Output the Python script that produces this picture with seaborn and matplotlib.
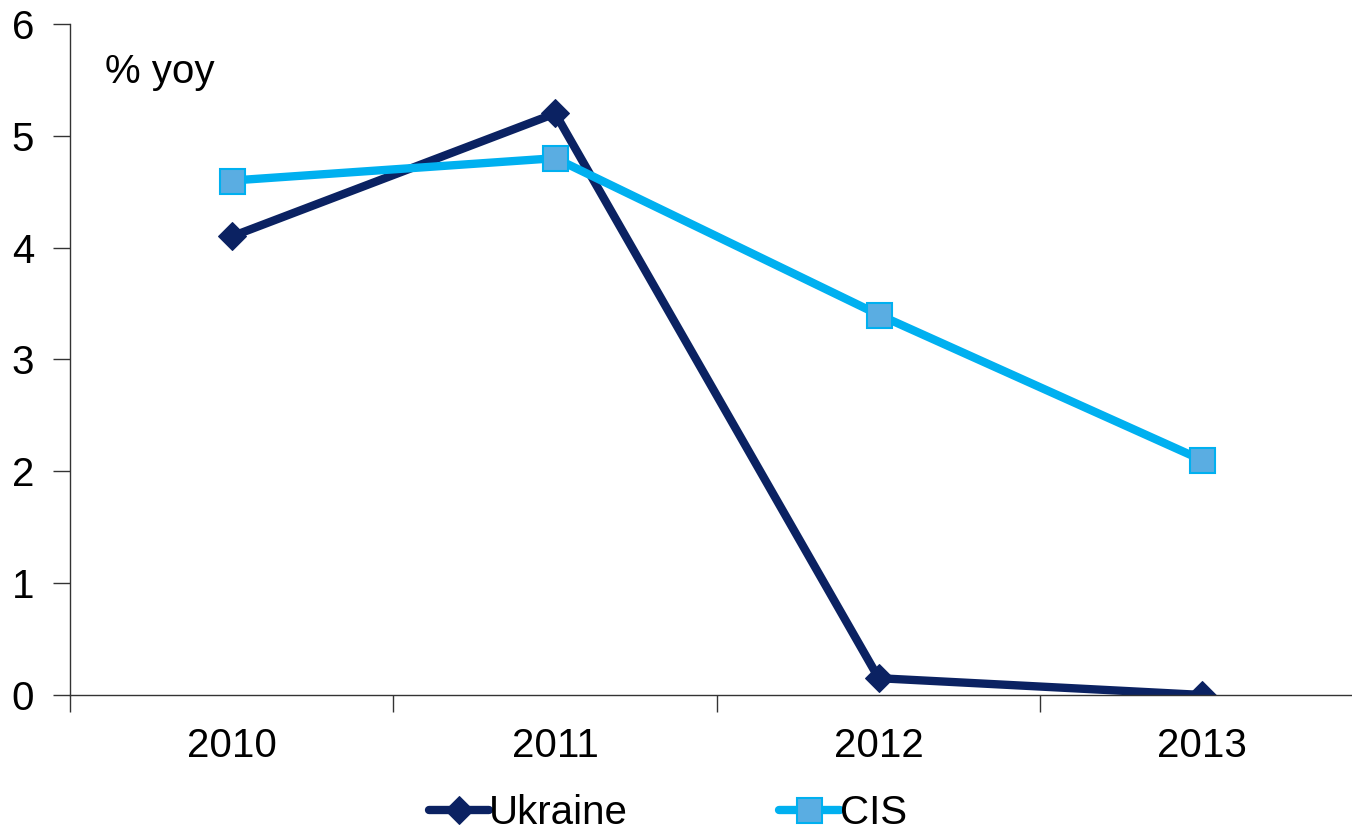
import pandas as pd
import matplotlib
matplotlib.use('Agg')
import matplotlib.pyplot as plt
import seaborn as sns

# Data
years = ['2010', '2011', '2012', '2013']
ukraine = [4.1, 5.2, 0.15, 0.0]
cis = [4.6, 4.8, 3.4, 2.1]

sns.set_style('white')
plt.rcParams['font.family'] = ['Liberation Sans', 'DejaVu Sans']
plt.rcParams['text.color'] = 'black'
plt.rcParams['xtick.color'] = 'black'
plt.rcParams['ytick.color'] = 'black'

df = pd.DataFrame({
    'Year': years * 2,
    'Value': ukraine + cis,
    'Series': ['Ukraine'] * len(years) + ['CIS'] * len(years),
})

fig = plt.figure(figsize=(13.52, 8.3), dpi=100)
ax = fig.add_axes([0.0518, 0.1627, 0.957, 0.8084])

# Ukraine - dark navy with diamonds
sns.lineplot(data=df[df['Series'] == 'Ukraine'], x='Year', y='Value', ax=ax,
             color='#0B2262', linewidth=6, marker='D', markersize=14,
             markeredgecolor='#0B2262', label='Ukraine')
# CIS - light blue with squares
sns.lineplot(data=df[df['Series'] == 'CIS'], x='Year', y='Value', ax=ax,
             color='#00B0F0', linewidth=6, marker='s', markersize=18,
             markerfacecolor='#5AADE2', markeredgecolor='#00B0F0',
             markeredgewidth=1.5, label='CIS')

ax.set_xlim(-0.5, 3.5)
ax.set_ylim(0, 6)
ax.set_yticks(range(0, 7))
ax.set_xlabel('')
ax.set_ylabel('')

# x ticks between categories, labels at categories
ax.set_xticks([-0.5, 0.5, 1.5, 2.5], minor=False)
ax.set_xticklabels([])
ax.set_xticks(range(len(years)), minor=True)
ax.set_xticklabels(years, minor=True)
ax.tick_params(axis='x', which='major', direction='out', length=12, width=1, color='#333333', bottom=True)
ax.tick_params(axis='x', which='minor', length=0, labelsize=29, pad=23, bottom=True)
ax.tick_params(axis='y', direction='out', length=12, width=1, color='#333333', labelsize=29, pad=14, left=True)

for side in ['top', 'right']:
    ax.spines[side].set_visible(False)
ax.spines['left'].set_color('#333333')
ax.spines['bottom'].set_color('#333333')
ax.spines['left'].set_linewidth(1)
ax.spines['bottom'].set_linewidth(1)

ax.text(0.027, 0.928, '% yoy', transform=ax.transAxes, fontsize=29, va='center', ha='left')

ax.legend(loc='center', bbox_to_anchor=(0.494, 0.02), bbox_transform=fig.transFigure,
          ncol=2, frameon=False, fontsize=29, handlelength=1.5, handletextpad=0.0,
          columnspacing=3.75, borderpad=0)

plt.savefig('out.png', dpi=100)
